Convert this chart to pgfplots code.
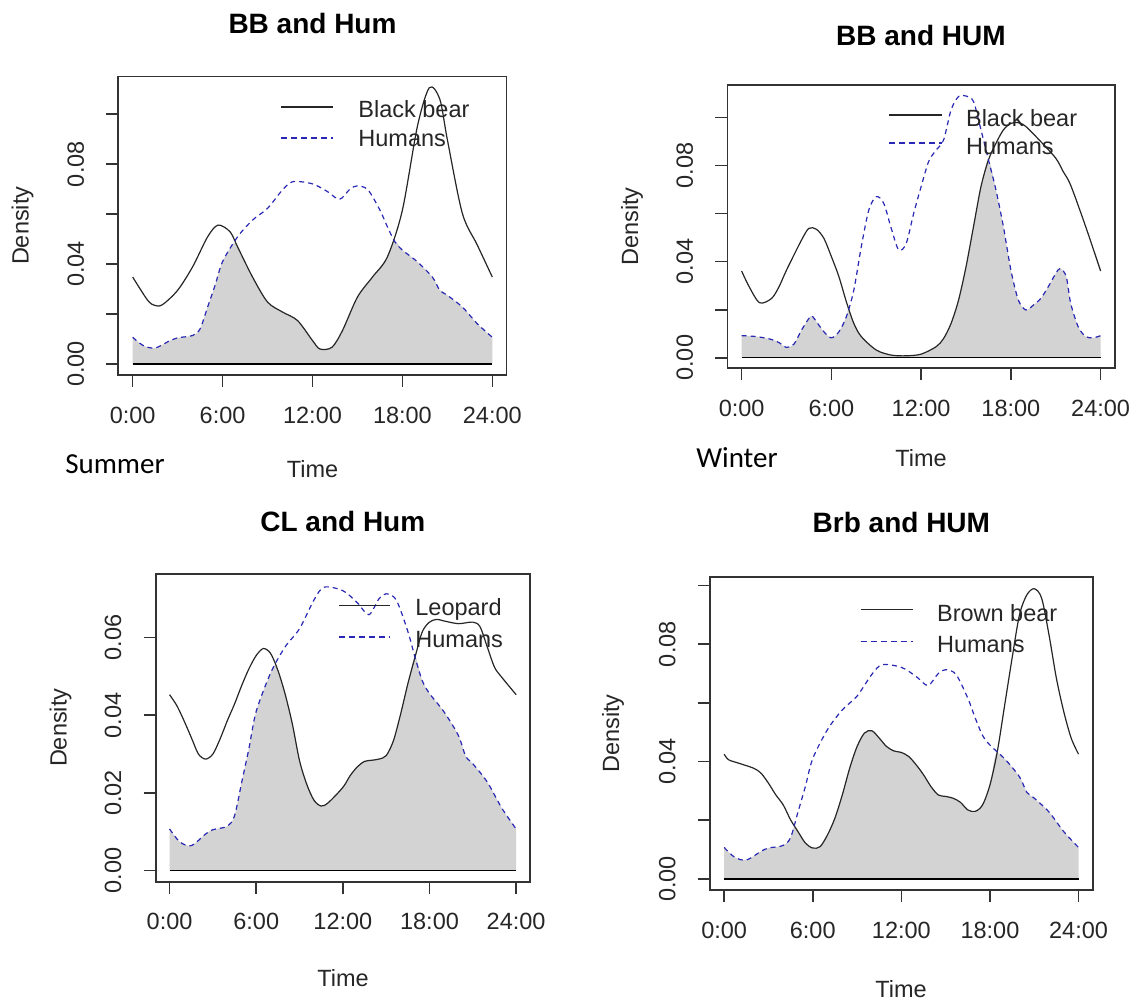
\documentclass[border=0pt]{standalone}
\usepackage{pgfplots}
\usepackage{pgfplotstable}
\pgfplotsset{compat=1.18}
\usepackage{fontspec}
\setmainfont{Liberation Sans}
\newfontfamily\calibri{Carlito}

\definecolor{humblue}{RGB}{40,40,180}
\definecolor{olap}{RGB}{211,211,211}

% summer human activity, shared by three panels
\pgfplotstableread{
h v
0 0.0107
0.7 0.0074
1.5 0.0064
2.5 0.0094
3 0.0105
4 0.0114
4.5 0.0141
5 0.0228
5.5 0.0315
6 0.0410
7 0.0509
8 0.0576
9 0.0623
10 0.0697
10.7 0.0730
12 0.0721
13 0.0690
13.8 0.0659
14.5 0.0700
15 0.0713
15.7 0.0697
16.5 0.0616
17 0.0549
17.5 0.0489
18 0.0456
19 0.0409
20 0.0348
20.5 0.0295
21 0.0275
22 0.0228
23 0.0161
24 0.0107
}\humsummer

\pgfplotsset{
  actplot/.style={
    scale only axis, anchor=north west,
    xmin=-0.96, xmax=24.96,
    xtick={0,6,12,18,24},
    xticklabels={0:00,6:00,12:00,18:00,24:00},
    scaled y ticks=false,
    tick pos=left, tick align=outside, major tick length=6pt,
    axis line style={line width=0.8pt, black!80},
    every tick/.style={line width=0.8pt, black!80},
    tick label style={font=\fontsize{11.75}{13}\selectfont, text=black!85},
    xticklabel style={anchor=center, yshift=-14pt},
    yticklabel style={xshift=-15.3pt, rotate=90, anchor=center},
  },
  bear/.style={black!85, line width=0.6pt, smooth},
  hum/.style={humblue, line width=0.6pt, smooth, dash pattern=on 2.5pt off 2pt},
  olapfill/.style={fill=olap, draw=none, smooth},
  zeroline/.style={black, line width=0.75pt},
}
\tikzset{
  legbear/.style={black!85, line width=0.7pt},
  leghum/.style={humblue, line width=0.8pt, dash pattern=on 3pt off 2pt},
}

\begin{document}
\begin{tikzpicture}
\useasboundingbox (0,0) rectangle (568.5pt,-502pt);

% ---------- Summer: black bear ----------
\begin{axis}[actplot, at={(59.15pt,-38.35pt)}, width=194.2pt, height=149.15pt,
  ymin=-0.0044, ymax=0.115,
  ytick={0,0.02,0.04,0.06,0.08,0.10}, yticklabels={0.00,,0.04,,0.08,}]
\addplot[olapfill] coordinates {(0,0.0107)(0.7,0.0074)(1.5,0.0064)(2.5,0.0094)(3,0.0105)(4,0.0114)(4.5,0.0141)(5,0.0228)(5.5,0.0315)(6,0.0410)(6.7,0.048)(7,0.0469)(8,0.0348)(9,0.0248)(10,0.0208)(11,0.0174)(12,0.0094)(12.5,0.006)(13.3,0.0067)(14,0.0134)(15,0.0268)(16,0.0348)(17,0.0429)(17.5,0.049)(18,0.0456)(19,0.0409)(20,0.0348)(20.5,0.0295)(21,0.0275)(22,0.0228)(23,0.0161)(24,0.0107)} \closedcycle;
\addplot[zeroline] coordinates {(0,0)(24,0)};
\addplot[bear] coordinates {(0,0.0348)(1,0.0255)(1.5,0.0234)(2,0.0238)(3,0.0295)(4,0.0389)(5,0.0509)(5.7,0.0556)(6.5,0.0529)(7,0.0469)(8,0.0348)(9,0.0248)(10,0.0208)(11,0.0174)(12,0.0094)(12.5,0.006)(13.3,0.0067)(14,0.0134)(15,0.0268)(16,0.0348)(17,0.0429)(18,0.0616)(19,0.0951)(19.8,0.1106)(20.5,0.1059)(21,0.0898)(22,0.0603)(23,0.0476)(24,0.0348)};
\addplot[hum] table {\humsummer};
\end{axis}

% ---------- Winter: black bear ----------
\begin{axis}[actplot, at={(363.65pt,-42.5pt)}, width=193.85pt, height=141.65pt,
  ymin=-0.0044, ymax=0.1136,
  ytick={0,0.02,0.04,0.06,0.08,0.10}, yticklabels={0.00,,0.04,,0.08,}]
\addplot[olapfill] coordinates {(0,0.0092)(1,0.0088)(2,0.0076)(2.5,0.0063)(3,0.0043)(3.5,0.0057)(4,0.0115)(4.5,0.0164)(4.7,0.0174)(5,0.015)(5.5,0.0108)(6,0.0083)(6.5,0.0108)(7,0.0171)(7.15,0.0205)(7.5,0.0143)(8,0.0088)(9,0.0032)(10,0.0011)(11,0.0008)(12,0.0015)(13,0.0046)(13.5,0.008)(14,0.0143)(14.5,0.024)(15,0.0379)(15.5,0.0546)(16,0.0713)(16.5,0.0824)(17,0.0699)(17.5,0.0546)(18,0.0365)(18.5,0.024)(19,0.0199)(19.5,0.0219)(20,0.0247)(20.5,0.0296)(21,0.0351)(21.3,0.0372)(21.7,0.0338)(22,0.0226)(22.5,0.0129)(23,0.0088)(23.5,0.0083)(24,0.0092)} \closedcycle;
\addplot[zeroline] coordinates {(0,0)(24,0)};
\addplot[bear] coordinates {(0,0.0361)(0.5,0.0296)(1.2,0.0229)(2,0.0247)(2.5,0.0296)(3,0.0365)(4,0.049)(4.5,0.0539)(5,0.0535)(5.5,0.0497)(6,0.0421)(6.5,0.0338)(7,0.0233)(7.5,0.0143)(8,0.0088)(9,0.0032)(10,0.0011)(11,0.0008)(12,0.0015)(13,0.0046)(13.5,0.008)(14,0.0143)(14.5,0.024)(15,0.0379)(15.5,0.0546)(16,0.0713)(16.5,0.0824)(17,0.0893)(17.5,0.0949)(18,0.0976)(18.5,0.0979)(19,0.0963)(20,0.09)(21,0.0831)(21.5,0.0775)(22,0.0718)(23,0.0546)(24,0.0361)};
\addplot[hum] coordinates {(0,0.0092)(1,0.0088)(2,0.0076)(2.5,0.0063)(3,0.0043)(3.5,0.0057)(4,0.0115)(4.5,0.0164)(4.7,0.0174)(5,0.015)(5.5,0.0108)(6,0.0083)(6.5,0.0108)(7,0.0171)(7.5,0.0282)(8,0.0463)(8.5,0.0615)(9,0.0671)(9.5,0.0643)(10,0.0539)(10.5,0.0449)(11,0.0476)(11.5,0.0601)(12,0.0713)(12.5,0.0817)(13,0.0865)(13.5,0.0907)(14,0.1032)(14.5,0.1088)(15,0.109)(15.5,0.1067)(16,0.0949)(16.5,0.0824)(17,0.0699)(17.5,0.0546)(18,0.0365)(18.5,0.024)(19,0.0199)(19.5,0.0219)(20,0.0247)(20.5,0.0296)(21,0.0351)(21.3,0.0372)(21.7,0.0338)(22,0.0226)(22.5,0.0129)(23,0.0088)(23.5,0.0083)(24,0.0092)};
\end{axis}

% ---------- Leopard ----------
\begin{axis}[actplot, at={(77.85pt,-287pt)}, width=187.15pt, height=153.85pt,
  ymin=-0.0029, ymax=0.0764,
  ytick={0,0.02,0.04,0.06}, yticklabels={0.00,0.02,0.04,0.06}]
\addplot[olapfill] coordinates {(0,0.0107)(0.7,0.0074)(1.5,0.0064)(2.5,0.0094)(3,0.0105)(4,0.0114)(4.5,0.0141)(5,0.0228)(5.5,0.0315)(6,0.0410)(7,0.0509)(7.3,0.053)(7.5,0.0516)(8,0.0455)(8.5,0.0378)(9,0.0283)(9.5,0.0222)(10,0.0181)(10.5,0.0166)(11,0.0175)(12,0.0214)(12.5,0.0244)(13,0.0267)(13.5,0.0281)(14,0.0284)(14.5,0.0287)(15,0.0296)(15.5,0.0334)(16,0.0403)(16.5,0.0481)(17,0.055)(17.5,0.0489)(18,0.0456)(19,0.0409)(20,0.0348)(20.5,0.0295)(21,0.0275)(22,0.0228)(23,0.0161)(24,0.0107)} \closedcycle;
\addplot[zeroline] coordinates {(0,0)(24,0)};
\addplot[bear] coordinates {(0,0.0453)(0.5,0.0425)(1,0.0386)(1.5,0.0343)(2,0.03)(2.5,0.0287)(3,0.03)(3.5,0.0339)(4,0.0386)(4.5,0.0429)(5,0.0477)(5.5,0.052)(6,0.0554)(6.5,0.0572)(7,0.0559)(7.5,0.0516)(8,0.0455)(8.5,0.0378)(9,0.0283)(9.5,0.0222)(10,0.0181)(10.5,0.0166)(11,0.0175)(12,0.0214)(12.5,0.0244)(13,0.0267)(13.5,0.0281)(14,0.0284)(14.5,0.0287)(15,0.0296)(15.5,0.0334)(16,0.0403)(16.5,0.0481)(17,0.055)(17.5,0.0615)(18,0.064)(18.5,0.0647)(19,0.0643)(20,0.0636)(21,0.064)(21.5,0.0628)(22,0.0576)(22.5,0.0524)(23,0.0498)(24,0.0453)};
\addplot[hum] table {\humsummer};
\end{axis}

% ---------- Brown bear ----------
\begin{axis}[actplot, at={(355pt,-288.65pt)}, width=191.35pt, height=156.35pt,
  ymin=-0.0038, ymax=0.1028,
  ytick={0,0.02,0.04,0.06,0.08,0.10}, yticklabels={0.00,,0.04,,0.08,}]
\addplot[olapfill] coordinates {(0,0.0107)(0.7,0.0074)(1.5,0.0064)(2.5,0.0094)(3,0.0105)(4,0.0114)(4.5,0.0141)(4.75,0.018)(5,0.0161)(5.5,0.0122)(6,0.0105)(6.5,0.011)(7,0.015)(7.5,0.0207)(8,0.0286)(8.5,0.0377)(9,0.0451)(9.5,0.0497)(10,0.0505)(10.5,0.048)(11,0.0451)(11.5,0.0436)(12,0.0431)(12.5,0.0417)(13,0.0389)(13.5,0.0355)(14,0.0315)(14.5,0.0286)(15,0.0281)(15.5,0.0275)(16,0.0261)(16.5,0.0235)(17,0.023)(17.5,0.0252)(18,0.032)(18.4,0.0425)(19,0.0409)(20,0.0348)(20.5,0.0295)(21,0.0275)(22,0.0228)(23,0.0161)(24,0.0107)} \closedcycle;
\addplot[zeroline] coordinates {(0,0)(24,0)};
\addplot[bear] coordinates {(0,0.0425)(0.3,0.0406)(1,0.0394)(2,0.0377)(2.5,0.036)(3,0.0326)(3.5,0.0286)(4,0.0252)(4.5,0.0201)(5,0.0161)(5.5,0.0122)(6,0.0105)(6.5,0.011)(7,0.015)(7.5,0.0207)(8,0.0286)(8.5,0.0377)(9,0.0451)(9.5,0.0497)(10,0.0505)(10.5,0.048)(11,0.0451)(11.5,0.0436)(12,0.0431)(12.5,0.0417)(13,0.0389)(13.5,0.0355)(14,0.0315)(14.5,0.0286)(15,0.0281)(15.5,0.0275)(16,0.0261)(16.5,0.0235)(17,0.023)(17.5,0.0252)(18,0.032)(18.5,0.0434)(19,0.0593)(19.5,0.0752)(20,0.09)(20.5,0.0968)(21,0.0989)(21.5,0.0957)(22,0.0832)(22.5,0.0684)(23,0.057)(23.5,0.048)(24,0.0425)};
\addplot[hum] table {\humsummer};
\end{axis}

% ---------- titles, axis labels, legends ----------
\begin{scope}[every node/.style={inner sep=0pt}]
\node[font=\bfseries\fontsize{14}{16}\selectfont] at (156.25pt,-12pt) {BB and Hum};
\node[font=\bfseries\fontsize{14}{16}\selectfont] at (460.5pt,-17.75pt) {BB and HUM};
\node[font=\bfseries\fontsize{14}{16}\selectfont] at (171.4pt,-260.5pt) {CL and Hum};
\node[font=\bfseries\fontsize{14}{16}\selectfont] at (450.7pt,-261pt) {Brb and HUM};

\begin{scope}[every node/.append style={font=\fontsize{11.75}{13}\selectfont, text=black!85}]
\node[rotate=90] at (11.25pt,-112.9pt) {Density};
\node[rotate=90] at (316pt,-113.3pt) {Density};
\node[rotate=90] at (30.25pt,-363.9pt) {Density};
\node[rotate=90] at (306.5pt,-366.8pt) {Density};
\node at (156.25pt,-234.5pt) {Time};
\node at (460.5pt,-229pt) {Time};
\node at (171.5pt,-489pt) {Time};
\node at (450.5pt,-494.5pt) {Time};

\draw[legbear] (140.5pt,-53.5pt) -- (166.5pt,-53.5pt);
\draw[leghum] (140.5pt,-69pt) -- (166.5pt,-69pt);
\node[anchor=west] at (179pt,-54.5pt) {Black bear};
\node[anchor=west] at (179pt,-69.5pt) {Humans};

\draw[legbear] (444.5pt,-57.5pt) -- (470.85pt,-57.5pt);
\draw[leghum] (444.5pt,-71.65pt) -- (470.85pt,-71.65pt);
\node[anchor=west] at (482.85pt,-58.85pt) {Black bear};
\node[anchor=west] at (482.85pt,-73.35pt) {Humans};

\draw[legbear] (169.5pt,-302.85pt) -- (195pt,-302.85pt);
\draw[leghum] (169.5pt,-318.65pt) -- (195pt,-318.65pt);
\node[anchor=west] at (207.5pt,-304.65pt) {Leopard};
\node[anchor=west] at (207.5pt,-320pt) {Humans};

\draw[legbear] (430.35pt,-304.65pt) -- (456.35pt,-304.65pt);
\draw[leghum] (430.35pt,-320.85pt) -- (456.35pt,-320.85pt);
\node[anchor=west] at (468.35pt,-306.35pt) {Brown bear};
\node[anchor=west] at (468.35pt,-322.15pt) {Humans};
\end{scope}

\node[font=\calibri\fontsize{14.5}{16}\selectfont] at (57.5pt,-232pt) {Summer};
\node[font=\calibri\fontsize{14.5}{16}\selectfont] at (368.5pt,-228.75pt) {Winter};
\end{scope}
\end{tikzpicture}
\end{document}
